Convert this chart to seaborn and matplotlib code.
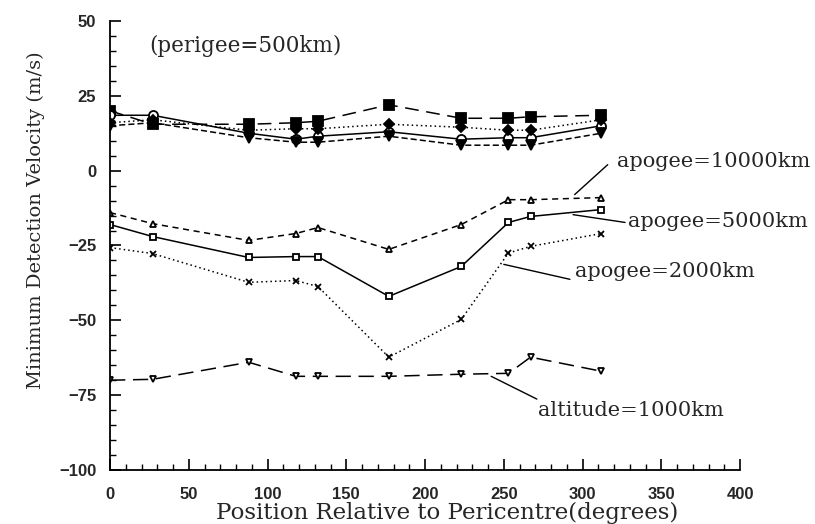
import matplotlib
matplotlib.use("Agg")
import matplotlib.pyplot as plt
import seaborn as sns
import numpy as np
import pandas as pd
from matplotlib.ticker import MultipleLocator

# ---- data ----
position = [0, 27, 88, 118, 132, 177, 223, 253, 267, 312]

# perigee = 500 km group (filled markers)
p500_a = [20, 15.5, 15.5, 16, 16.5, 22, 17.5, 17.5, 18, 18.5]
p500_b = [18.5, 18.5, 12.5, 10.5, 11.5, 13, 10.5, 11, 11, 15]
p500_c = [16, 17, 13.5, 14, 14, 15.5, 14.5, 13.5, 13.5, 17]
p500_d = [15, 16, 11, 9.5, 9.5, 11.5, 8.5, 8.5, 8.5, 12.5]

apogee_10000 = [-14, -17.7, -23.3, -21, -19, -26.3, -18, -9.7, -9.7, -9]
apogee_5000 = [-18, -22, -29, -28.7, -28.7, -42, -32, -17.3, -15.3, -13]
apogee_2000 = [-25.7, -27.7, -37.3, -36.7, -38.7, -62.3, -49.7, -27.5, -25.3, -21]
altitude_1000 = [-70, -69.7, -64, -68.7, -68.7, -68.7, -68, -67.7, -62.3, -67]

x_ticks = [0, 50, 100, 150, 200, 250, 300, 350, 400]
y_ticks = [-100, -75, -50, -25, 0, 25, 50]

sns.set_theme(style="white")
plt.rcParams['font.family'] = ['DejaVu Serif']

fig = plt.figure(figsize=(8.15, 5.24), dpi=100)
ax = fig.add_axes([0.135, 0.103, 0.773, 0.857])

series = [
    (p500_a, dict(marker='s', markersize=6.5, markerfacecolor='black', linestyle=(0, (9, 5)))),
    (p500_b, dict(marker='o', markersize=6.5, markerfacecolor='white', linestyle='-')),
    (p500_c, dict(marker='D', markersize=5.5, markerfacecolor='black', linestyle=(0, (1, 2)))),
    (p500_d, dict(marker='v', markersize=6.5, markerfacecolor='black', linestyle=(0, (4, 2)))),
    (apogee_10000, dict(marker='^', markersize=5, markerfacecolor='white', linestyle=(0, (4, 3)))),
    (apogee_5000, dict(marker='s', markersize=5, markerfacecolor='white', linestyle='-')),
    (apogee_2000, dict(marker='x', markersize=5, linestyle=(0, (1, 2)))),
    (altitude_1000, dict(marker='v', markersize=5, markerfacecolor='white', linestyle=(0, (10, 5)))),
]
for vals, kw in series:
    df = pd.DataFrame({"pos": position, "v": vals})
    sns.lineplot(data=df, x="pos", y="v", ax=ax, color='black', linewidth=1.1,
                 markeredgecolor='black', markeredgewidth=1.3, **kw)

ax.set_xlim(0, 400)
ax.set_ylim(-100, 50)
ax.set_xticks(x_ticks)
ax.set_yticks(y_ticks)
ax.xaxis.set_minor_locator(MultipleLocator(10))
ax.yaxis.set_minor_locator(MultipleLocator(5))
for s in ['top', 'right']:
    ax.spines[s].set_visible(False)
for s in ['left', 'bottom']:
    ax.spines[s].set_color('black')
    ax.spines[s].set_linewidth(1.3)
ax.tick_params(which='both', direction='in', color='black', bottom=True, left=True)
ax.tick_params(which='major', length=8, width=1.2)
ax.tick_params(axis='x', which='major', pad=12)
ax.tick_params(axis='y', which='major', pad=10)
ax.tick_params(which='minor', length=4, width=1.0)
for lab in ax.get_xticklabels() + ax.get_yticklabels():
    lab.set_fontfamily('Liberation Sans')
    lab.set_fontweight('bold')
    lab.set_fontsize(12)

ax.set_xlabel("Position Relative to Pericentre(degrees)", fontsize=16.5)
ax.xaxis.set_label_coords(0.535, -0.07)
ax.set_ylabel("Minimum Detection Velocity (m/s)", fontsize=14)
ax.yaxis.set_label_coords(-0.103, 0.557)

ax.text(25, 41.5, "(perigee=500km)", fontsize=15.5, va='center', ha='left')
ax.text(322, 3, "apogee=10000km", fontsize=15, va='center', ha='left')
ax.plot([295, 316], [-8, 2], color='black', lw=1.0)
ax.text(329, -17, "apogee=5000km", fontsize=15, va='center', ha='left')
ax.plot([294, 327], [-14.7, -17.3], color='black', lw=1.0)
ax.text(295, -33.7, "apogee=2000km", fontsize=15, va='center', ha='left')
ax.plot([250, 292], [-31.3, -36.3], color='black', lw=1.0)
ax.text(272, -80, "altitude=1000km", fontsize=15, va='center', ha='left')
ax.plot([242, 271], [-68.7, -76.3], color='black', lw=1.0)

fig.savefig("out.png", dpi=100)
